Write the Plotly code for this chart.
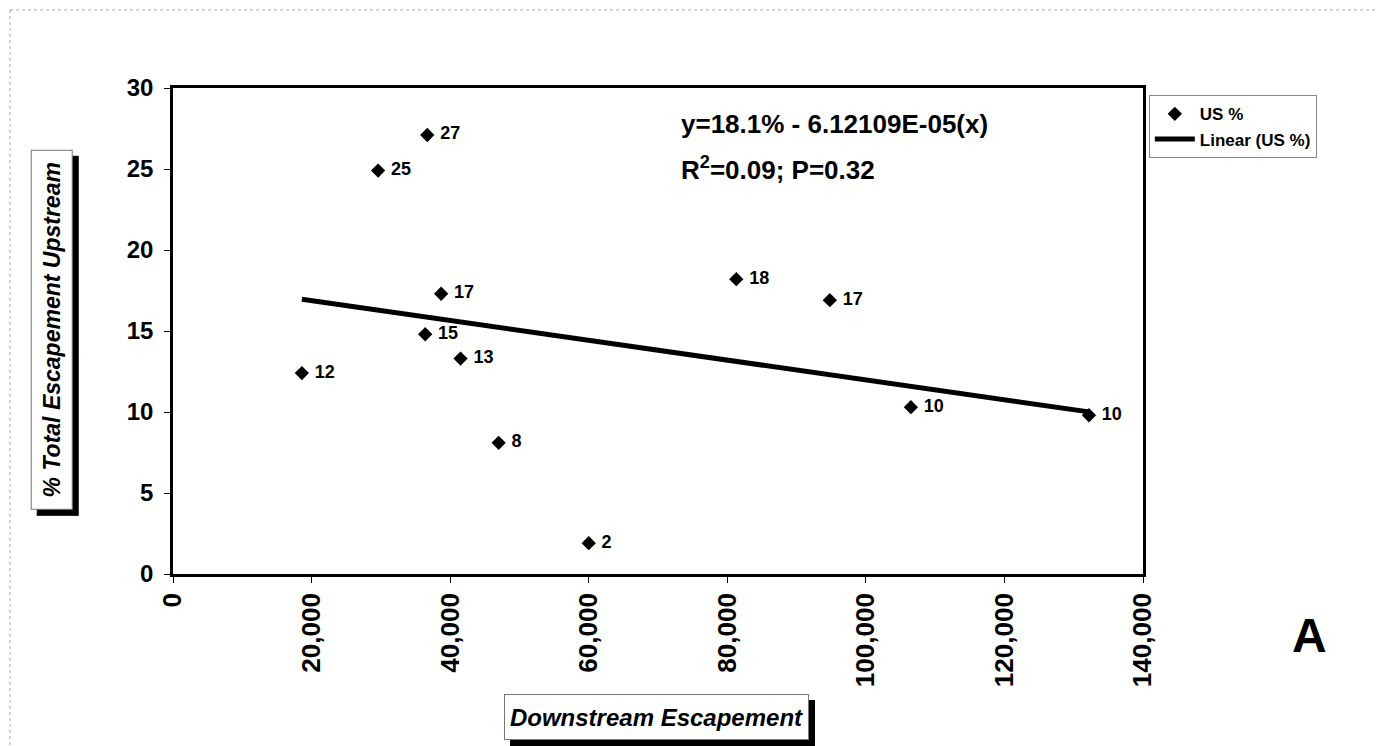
import plotly.graph_objects as go

# Data
downstream = [18600, 29600, 36700, 36400, 38700, 41500, 47000, 60000, 81300, 94800, 106500, 132200]
us_pct = [12.4, 24.9, 27.1, 14.8, 17.3, 13.3, 8.1, 1.9, 18.2, 16.9, 10.3, 9.8]
point_labels = ["12", "25", "27", "15", "17", "13", "8", "2", "18", "17", "10", "10"]
fit_intercept = 18.1
fit_slope = -6.12109e-05
x_ticks = [0, 20000, 40000, 60000, 80000, 100000, 120000, 140000]
y_ticks = [0, 5, 10, 15, 20, 25, 30]

FONT = "Arial, Liberation Sans, sans-serif"

fit_x = [min(downstream), max(downstream)]
fit_y = [fit_intercept + fit_slope * v for v in fit_x]

fig = go.Figure()
fig.add_trace(go.Scatter(
    x=downstream, y=us_pct, mode="markers+text", name="US %",
    marker=dict(symbol="diamond", size=11, color="black"),
    text=["\u00a0" + t for t in point_labels], textposition="middle right",
    textfont=dict(family=FONT, size=18, color="black", weight="bold"),
))
fig.add_trace(go.Scatter(
    x=fit_x, y=fit_y, mode="lines", name="Linear (US %)",
    line=dict(color="black", width=5),
))

fig.update_layout(
    width=1385, height=746,
    margin=dict(l=165, r=250, t=80, b=180),
    paper_bgcolor="white", plot_bgcolor="white",
    font=dict(family=FONT, color="black"),
    showlegend=True,
    legend=dict(
        x=1.006, y=0.985, xanchor="left", yanchor="top",
        bordercolor="#888888", borderwidth=1, bgcolor="white",
        font=dict(family=FONT, size=17, weight="bold"),
        tracegroupgap=0, itemwidth=40,
    ),
)
fig.update_xaxes(
    range=[0, 140000], tickvals=x_ticks, tickformat=",", tickangle=-90,
    showgrid=False, zeroline=False,
    showline=True, linecolor="black", linewidth=2.5, mirror=True,
    ticks="outside", ticklen=6, tickcolor="black",
    tickfont=dict(family=FONT, size=26, weight="bold"),
)
fig.update_yaxes(
    range=[0, 30], tickvals=y_ticks,
    showgrid=False, zeroline=False,
    showline=True, linecolor="black", linewidth=2.5, mirror=True,
    ticks="outside", ticklen=6, tickcolor="black", ticklabelstandoff=6,
    tickfont=dict(family=FONT, size=24, weight="bold"),
)

def boxed_title(text, x, y, angle, w, h, size):
    common = dict(xref="paper", yref="paper", x=x, y=y, showarrow=False,
                  textangle=angle, xanchor="center", yanchor="middle",
                  borderpad=0, borderwidth=1, width=w, height=h)
    # drop shadow box
    fig.add_annotation(text="\u00a0", xshift=6, yshift=-6, bgcolor="black", bordercolor="black",
                       font=dict(family=FONT, size=size, color="black"), **common)
    fig.add_annotation(text=text, bgcolor="white", bordercolor="#777777",
                       font=dict(family=FONT, size=size, color="black", weight="bold", style="italic"),
                       **common)

boxed_title("Downstream Escapement", 0.498, -0.294, 0, 303, 44, 24)
boxed_title("% Total Escapement Upstream", -0.125, 0.502, -90, 358, 40, 23)

fig.add_annotation(text="y=18.1% - 6.12109E-05(x)", xref="paper", yref="paper",
                   x=0.522, y=0.925, xanchor="left", yanchor="middle", showarrow=False,
                   font=dict(family=FONT, size=26, weight="bold"))
fig.add_annotation(text="R<sup>2</sup>=0.09; P=0.32", xref="paper", yref="paper",
                   x=0.522, y=0.835, xanchor="left", yanchor="middle", showarrow=False,
                   font=dict(family=FONT, size=26, weight="bold"))
fig.add_annotation(text="A", xref="paper", yref="paper",
                   x=1.172, y=-0.126, xanchor="center", yanchor="middle", showarrow=False,
                   font=dict(family=FONT, size=48, weight="bold"))

# faint scan frame (top, left, right edges)
fx0, fx1 = (9 - 172) / 970, (1378 - 172) / 970
fy_top, fy_bot = (573 - 9) / 486, (573 - 745) / 486
for (x0, y0, x1, y1) in [(fx0, fy_top, fx1, fy_top), (fx0, fy_top, fx0, fy_bot), (fx1, fy_top, fx1, fy_bot)]:
    fig.add_shape(type="line", xref="paper", yref="paper", x0=x0, y0=y0, x1=x1, y1=y1,
                  line=dict(color="#aaaaaa", width=1, dash="dot"), layer="below")

fig.write_html("out.html")
